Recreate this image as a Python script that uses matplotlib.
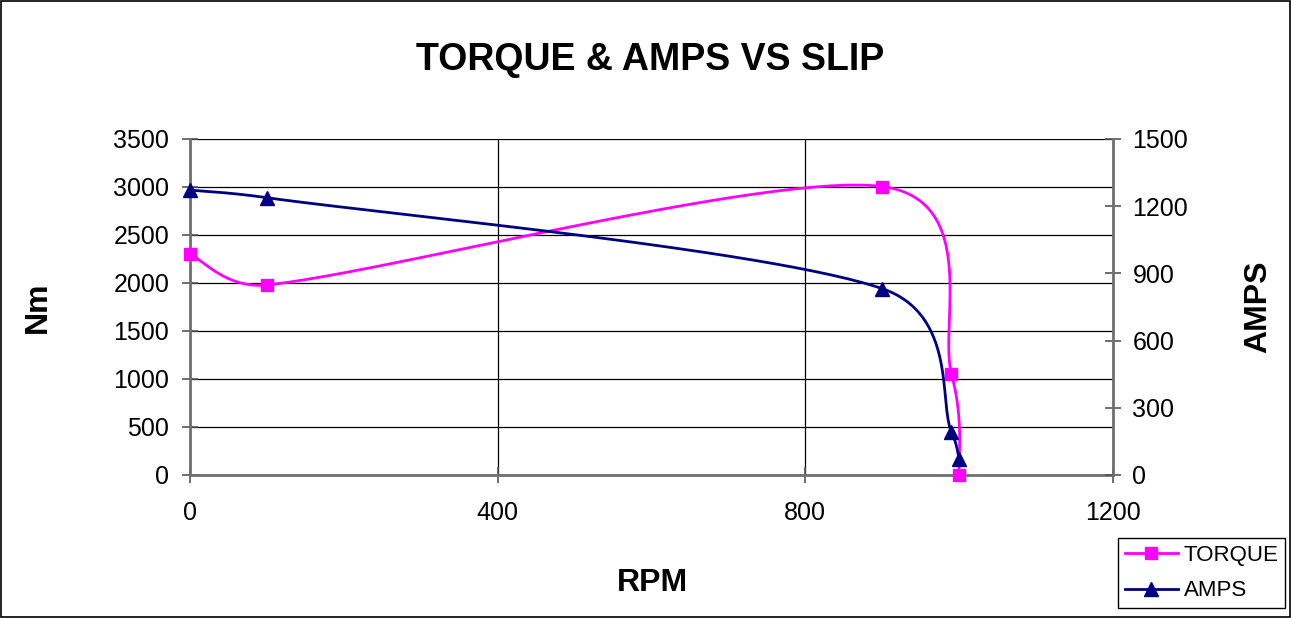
import numpy as np
import matplotlib.pyplot as plt
from matplotlib.lines import Line2D

plt.rcParams['font.family'] = ['Liberation Sans', 'DejaVu Sans']

rpm = [0, 100, 900, 990, 1000]
torque = [2300, 1980, 3005, 1055, 0]
amps = [1272, 1238, 832, 193, 71]


def smooth(x, y, sx, sy, n=60):
    # excel-like smoothed line: bezier, control = tangent/6, capped at half the segment (screen units)
    p = np.column_stack([np.asarray(x, float) * sx, np.asarray(y, float) * sy])
    m = len(p)
    t = np.linspace(0, 1, n)[:, None]
    out = []
    for i in range(m - 1):
        p0, p3 = p[i], p[i + 1]
        d = np.linalg.norm(p3 - p0)
        v1 = (p[i + 1] - p[max(i - 1, 0)]) / 6.0
        v2 = (p[min(i + 2, m - 1)] - p[i]) / 6.0
        for v in (v1, v2):
            ln = np.linalg.norm(v)
            if ln > d / 2:
                v *= (d / 2) / ln
        p1 = p0 + v1
        p2 = p3 - v2
        b = (1 - t) ** 3 * p0 + 3 * (1 - t) ** 2 * t * p1 + 3 * (1 - t) * t ** 2 * p2 + t ** 3 * p3
        out.append(b)
    out = np.vstack(out)
    return out[:, 0] / sx, out[:, 1] / sy


fig = plt.figure(figsize=(12.91, 6.18), dpi=100)
fig.patches.append(plt.Rectangle((0.0005, 0.001), 0.999, 0.998, transform=fig.transFigure,
                                 fill=False, edgecolor='black', linewidth=1.2))

ax = fig.add_axes([190 / 1291, 1 - 475 / 618, (1113 - 190) / 1291, (475 - 139) / 618])
ax2 = ax.twinx()

pxx = 923 / 1200.0

# torque (left axis)
sx, sy = smooth(rpm, torque, pxx, 336 / 3500.0)
ax.plot(sx, sy, color='#ff00ff', linewidth=2, clip_on=False)
ax.plot(rpm, torque, linestyle='none', marker='s', markersize=9, color='#ff00ff', clip_on=False, zorder=5)

# amps (right axis)
sx, sy = smooth(rpm, amps, pxx, 336 / 1500.0)
ax2.plot(sx, sy, color='#000080', linewidth=2, clip_on=False)
ax2.plot(rpm, amps, linestyle='none', marker='^', markersize=10.5, color='#000080', clip_on=False, zorder=5)

ax.set_xlim(0, 1200)
ax.set_ylim(0, 3500)
ax2.set_ylim(0, 1500)
ax.set_xticks([0, 400, 800, 1200])
ax.set_yticks(range(0, 3501, 500))
ax2.set_yticks(range(0, 1501, 300))

ax.grid(True, color='black', linewidth=0.9)
ax.set_axisbelow(True)

for a in (ax, ax2):
    a.spines['top'].set_visible(False)
    a.tick_params(labelsize=18, length=12, width=1.2, direction='inout', color='#555555')
ax.spines['left'].set_color('#707070')
ax.spines['left'].set_linewidth(2)
ax.spines['bottom'].set_color('#707070')
ax.spines['bottom'].set_linewidth(2)
ax.spines['right'].set_visible(False)
ax2.spines['left'].set_visible(False)
ax2.spines['bottom'].set_visible(False)
ax2.spines['right'].set_color('#707070')
ax2.spines['right'].set_linewidth(2)
ax.tick_params(axis='x', pad=13)
ax.tick_params(axis='y', pad=9)
ax2.tick_params(axis='y', pad=8)

fig.text(652 / 1291, 1 - 583 / 618, 'RPM', ha='center', va='center', fontsize=23, fontweight='bold')
fig.text(38 / 1291, 1 - 307 / 618, 'Nm', ha='center', va='center', fontsize=23,
         fontweight='bold', rotation=90)
fig.text(1258 / 1291, 1 - 307 / 618, 'AMPS', ha='center', va='center', fontsize=23,
         fontweight='bold', rotation=90)

fig.text(650 / 1291, 1 - 60 / 618, 'TORQUE & AMPS VS SLIP', ha='center', va='center',
         fontsize=27, fontweight='bold')

handles = [Line2D([], [], color='#ff00ff', marker='s', markersize=9, linewidth=2),
           Line2D([], [], color='#000080', marker='^', markersize=10.5, linewidth=2)]
fig.legend(handles, ['TORQUE', 'AMPS'], loc='lower right',
           bbox_to_anchor=(1285 / 1291, 1 - 608 / 618), fontsize=16,
           frameon=True, fancybox=False, edgecolor='black', framealpha=1,
           handlelength=2.4, borderpad=0.3, labelspacing=0.65, handletextpad=0.25,
           borderaxespad=0)
fig.legends[0].get_frame().set_linewidth(1.0)

fig.savefig('out.png', dpi=100)
